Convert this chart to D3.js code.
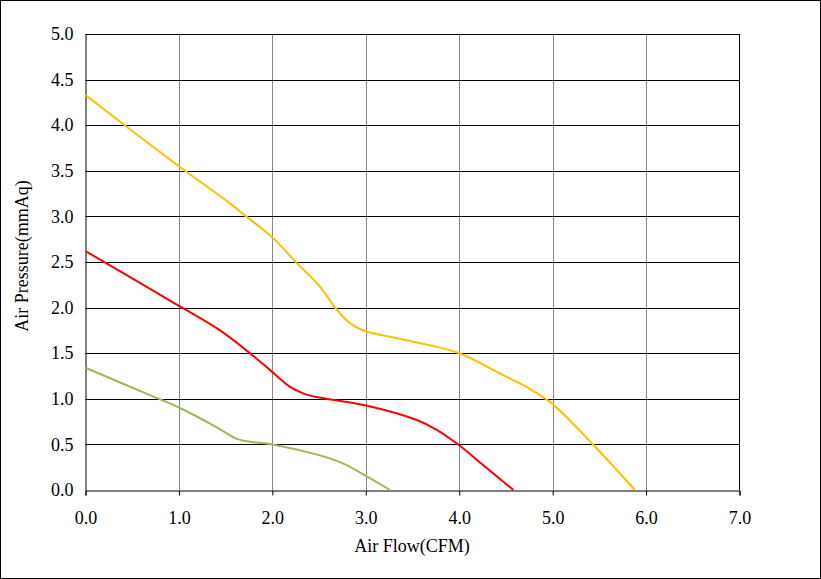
<!DOCTYPE html>
<html>
<head>
  <meta charset="UTF-8">
  <style>
    body { margin: 0; background: white; }
    svg text { font-family: "Liberation Serif", "Times New Roman", "DejaVu Serif", serif; }
  </style>
</head>
<body>
<svg></svg>
<script src="https://d3js.org/d3.v7.min.js"></script>
<script>
let width = 821, height = 579;
const serif = '"Liberation Serif", "Times New Roman", "DejaVu Serif", serif';

// P-Q curves (CFM, mmAq)
const highFlow = [0, 0.42, 1.0, 1.55, 1.72, 2.0, 2.26, 2.51, 2.68, 2.83, 3.0, 3.26, 3.54, 4.0, 4.47, 4.72, 4.99, 5.44, 5.88];
const highPres = [4.33, 4.0, 3.55, 3.14, 3.0, 2.77, 2.49, 2.23, 1.99, 1.83, 1.74, 1.68, 1.62, 1.50, 1.26, 1.13, 0.95, 0.49, 0];

const midFlow = [0, 0.9, 1.44, 1.76, 1.97, 2.19, 2.33, 2.47, 2.99, 3.54, 3.76, 4.0, 4.26, 4.58];
const midPres = [2.62, 2.08, 1.75, 1.50, 1.32, 1.13, 1.06, 1.02, 0.93, 0.77, 0.66, 0.49, 0.27, 0];

const lowFlow = [0, 0.69, 0.99, 1.40, 1.62, 1.76, 2.0, 2.51, 2.76, 3.01, 3.26];
const lowPres = [1.34, 1.04, 0.91, 0.69, 0.56, 0.53, 0.50, 0.38, 0.29, 0.15, 0];

const xTicks = [0, 1, 2, 3, 4, 5, 6, 7];
const yTicks = [0, 0.5, 1, 1.5, 2, 2.5, 3, 3.5, 4, 4.5, 5];

const series = [
  { flow: highFlow, pres: highPres, color: "#FFC000" },
  { flow: midFlow, pres: midPres, color: "#FF0000" },
  { flow: lowFlow, pres: lowPres, color: "#9BBB59" }
];

let svg = d3.select("svg")
    .attr("width", width)
    .attr("height", height);

// outer frame
svg.append("rect")
    .attr("x", 0.5).attr("y", 0.5)
    .attr("width", width - 1).attr("height", height - 1)
    .attr("fill", "white")
    .attr("stroke", "#000");

const x = d3.scaleLinear().domain([0, 7]).range([85.5, 739.5]);
const y = d3.scaleLinear().domain([0, 5]).range([490, 34]);

// vertical grid (grey)
svg.append("g")
    .selectAll("line")
    .data(xTicks.slice(1, -1))
    .join("line")
    .attr("x1", d => Math.round(x(d)) + 0.5)
    .attr("x2", d => Math.round(x(d)) + 0.5)
    .attr("y1", y(5)).attr("y2", y(0))
    .attr("stroke", "#878787");

// horizontal grid (black)
svg.append("g")
    .selectAll("line")
    .data(yTicks.slice(1))
    .join("line")
    .attr("x1", x(0)).attr("x2", x(7))
    .attr("y1", d => Math.round(y(d)) + 0.5)
    .attr("y2", d => Math.round(y(d)) + 0.5)
    .attr("stroke", "#000");

// right edge
svg.append("line")
    .attr("x1", x(7)).attr("x2", x(7))
    .attr("y1", y(5)).attr("y2", y(0))
    .attr("stroke", "#000");

// x axis
const xAxis = svg.append("g")
    .attr("transform", `translate(0,${y(0) + 0.5})`)
    .call(d3.axisBottom(x).tickValues(xTicks).tickFormat(d3.format(".1f")).tickSize(5).tickPadding(16));
xAxis.attr("font-family", null);
xAxis.select(".domain").attr("stroke", "#000");
xAxis.selectAll("line").attr("stroke", "#000");
xAxis.selectAll("text")
    .attr("fill", "#000")
    .style("font-family", serif)
    .style("font-size", "18px");

// y axis
const yAxis = svg.append("g")
    .attr("transform", `translate(${x(0)},0)`)
    .call(d3.axisLeft(y).tickValues(yTicks).tickFormat(d3.format(".1f")).tickSize(0).tickPadding(12));
yAxis.attr("font-family", null);
yAxis.select(".domain").attr("stroke", "#000");
yAxis.selectAll("text")
    .attr("fill", "#000")
    .style("font-family", serif)
    .style("font-size", "18px");

// curves
const line = d3.line()
    .x(d => x(d[0]))
    .y(d => y(d[1]))
    .curve(d3.curveCatmullRom.alpha(0.5));

svg.append("g")
    .selectAll("path")
    .data(series)
    .join("path")
    .attr("d", s => line(s.flow.map((f, i) => [f, s.pres[i]])))
    .attr("fill", "none")
    .attr("stroke", s => s.color)
    .attr("stroke-width", 2);

// axis titles
svg.append("text")
    .attr("x", 412)
    .attr("y", 552)
    .attr("text-anchor", "middle")
    .style("font-family", serif)
    .style("font-size", "18px")
    .attr("fill", "#000")
    .text("Air Flow(CFM)");

svg.append("text")
    .attr("transform", "translate(28,256) rotate(-90)")
    .attr("text-anchor", "middle")
    .style("font-family", serif)
    .style("font-size", "18px")
    .attr("fill", "#000")
    .text("Air Pressure(mmAq)");
</script>
</body>
</html>
